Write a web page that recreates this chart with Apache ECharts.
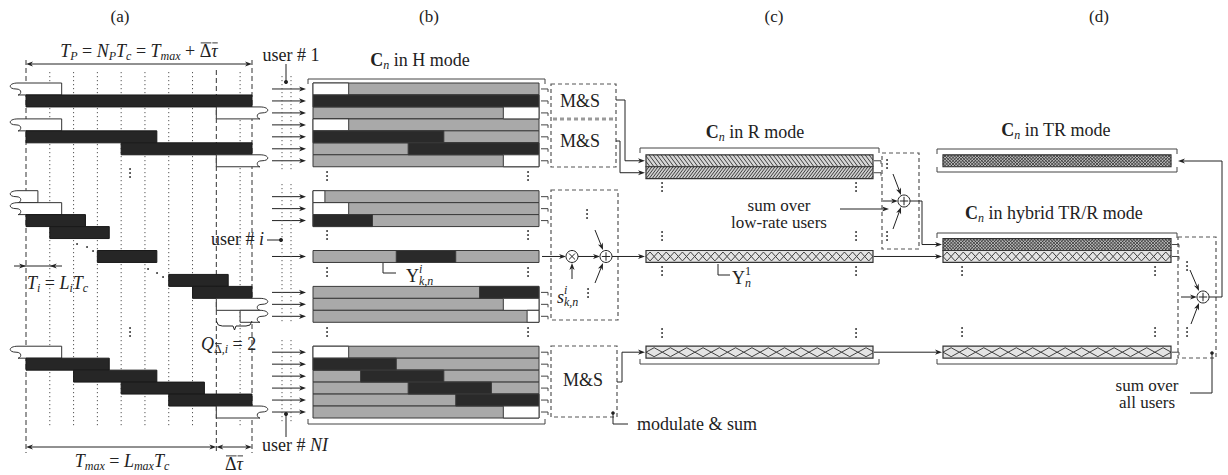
<!DOCTYPE html>
<html>
<head>
<meta charset="utf-8">
<script src="https://cdn.jsdelivr.net/npm/echarts@6/dist/echarts.min.js"></script>
<style>
html,body{margin:0;padding:0;background:#fff;}
#main{width:1228px;height:475px;}
</style>
</head>
<body>
<div id="main"></div>
<script>
//chip axis: one frame is Np = 9.5 chips (Tmax = 8 chips + mean delay 1.5 chips)
var chipMax = 9.5;
var slotMax = 28;
//panel (a): [slot, start chip, end chip, kind]  kind 1 = symbol, 0 = tail of neighbour symbol
var panelA = [
    [0, 0, 1.5, 0], [1, 0, 9.5, 1], [2, 8, 9.5, 0],
    [3, 0, 1.5, 0], [4, 0, 5.5, 1], [5, 4, 9.5, 1], [6, 8, 9.5, 0],
    [9, 0, 0.5, 0], [10, 0, 1.5, 0], [11, 0, 2.5, 1], [12, 1, 3.5, 1],
    [14, 3, 5.5, 1], [16, 6, 8.5, 1], [17, 7, 9.5, 1], [18, 8, 9.5, 0], [19, 9, 9.5, 0],
    [22, 0, 1.5, 0], [23, 0, 3.5, 1], [24, 2, 5.5, 1], [25, 4, 7.5, 1], [26, 6, 9.5, 1], [27, 8, 9.5, 0]
];
//panel (b): rows of the code (gray) and the coloured parts on them
var panelBRows = [0, 1, 2, 3, 4, 5, 6, 9, 10, 11, 14, 17, 18, 19, 22, 23, 24, 25, 26, 27];
var panelBParts = [
    [0, 0, 1.5, 0], [1, 0, 9.5, 1], [2, 8, 9.5, 0], [3, 0, 1.5, 0], [4, 0, 5.5, 1], [5, 4, 9.5, 1], [6, 8, 9.5, 0],
    [9, 0, 0.5, 0], [10, 0, 1.5, 0], [11, 0, 2.5, 1],
    [14, 3.5, 6, 1],
    [17, 7, 9.5, 1], [18, 8, 9.5, 0], [19, 9, 9.5, 0],
    [22, 0, 1.5, 0], [23, 0, 3.5, 1], [24, 2, 5.5, 1], [25, 4, 7.5, 1], [26, 6, 9.5, 1], [27, 8, 9.5, 0]
];
//panels (c) and (d): [slot, fill pattern]
var panelCStrips = [[6, 'bslash'], [7, 'slash'], [14, 'chain'], [22, 'chainWide']];
var panelDStrips = [[6, 'mesh'], [13, 'mesh'], [14, 'chain'], [22, 'chainWide']];
//dotted chip lines of panel (a)
var chipTicks = [1, 2, 3, 4, 5, 6, 7, 9];
var frameEdges = [0, 8, 9.5];

//layout
var TOP = 83, HGT = 335, SLOT_H = HGT / slotMax;
var LEFTS = [26, 313, 646, 943], WIDTHS = [226, 226, 227, 228];
var INK = '#222';
var SERIF = "'Liberation Serif', serif";
function rowMid(s) { return TOP + (s + 0.5) * SLOT_H; }
function chipA(c) { return LEFTS[0] + c * WIDTHS[0] / chipMax; }

//bars of panel (a)
function renderA(params, api) {
    var s = api.value(0), a = api.value(1), b = api.value(2), kind = api.value(3);
    var p0 = api.coord([a, s]), p1 = api.coord([b, s + 1]);
    var x0 = p0[0], y0 = p0[1], x1 = p1[0], y1 = p1[1], ym = (y0 + y1) / 2;
    if (kind === 1) {
        return {type: 'rect', shape: {x: x0, y: y0, width: x1 - x0, height: y1 - y0},
            style: {fill: '#262626', stroke: '#1a1a1a', lineWidth: 1}};
    }
    var d, xa;
    if (a === 0) {
        xa = x0 - 8;
        d = 'M' + xa + ',' + y0 + 'L' + x1 + ',' + y0 + 'L' + x1 + ',' + y1 + 'L' + xa + ',' + y1 +
            'M' + xa + ',' + y0 + 'C' + (xa - 10) + ',' + y0 + ' ' + (xa - 10) + ',' + ym + ' ' + (xa - 2) + ',' + ym +
            'C' + (xa + 5) + ',' + ym + ' ' + (xa + 3) + ',' + y1 + ' ' + xa + ',' + y1;
    } else {
        xa = x1 + 8;
        d = 'M' + xa + ',' + y0 + 'L' + x0 + ',' + y0 + 'L' + x0 + ',' + y1 + 'L' + xa + ',' + y1 +
            'M' + xa + ',' + y0 + 'C' + (xa + 10) + ',' + y0 + ' ' + (xa + 10) + ',' + ym + ' ' + (xa + 2) + ',' + ym +
            'C' + (xa - 5) + ',' + ym + ' ' + (xa - 3) + ',' + y1 + ' ' + xa + ',' + y1;
    }
    return {type: 'group', children: [
        {type: 'rect', shape: {x: Math.min(x0, xa), y: y0, width: Math.abs(xa - (a === 0 ? x1 : x0)), height: y1 - y0}, style: {fill: '#fff'}},
        {type: 'path', shape: {pathData: d}, style: {fill: null, stroke: '#333', lineWidth: 1}}
    ]};
}

//rows of panel (b)
function renderB(params, api) {
    var s = api.value(0), a = api.value(1), b = api.value(2), kind = api.value(3);
    var p0 = api.coord([a, s]), p1 = api.coord([b, s + 1]);
    var fills = ['#ffffff', '#2a2a2a', '#a9a9a9'];
    return {type: 'rect', z2: kind === 2 ? 0 : 1,
        shape: {x: p0[0], y: p0[1], width: p1[0] - p0[0], height: p1[1] - p0[1]},
        style: {fill: fills[kind], stroke: '#3a3a3a', lineWidth: 1}};
}

//clip a segment to a rectangle (Liang-Barsky)
function clipSeg(ax, ay, bx, by, r) {
    var t0 = 0, t1 = 1, dx = bx - ax, dy = by - ay;
    var p = [-dx, dx, -dy, dy], q = [ax - r[0], r[2] - ax, ay - r[1], r[3] - ay];
    for (var i = 0; i < 4; i++) {
        if (p[i] === 0) {
            if (q[i] < 0) return null;
        } else {
            var t = q[i] / p[i];
            if (p[i] < 0) { if (t > t1) return null; if (t > t0) t0 = t; }
            else { if (t < t0) return null; if (t < t1) t1 = t; }
        }
    }
    return [ax + t0 * dx, ay + t0 * dy, ax + t1 * dx, ay + t1 * dy];
}

function patternPath(name, r) {
    var segs = [], h = r[3] - r[1], ym = (r[1] + r[3]) / 2, x;
    if (name === 'chain' || name === 'chainWide') {
        var p = name === 'chain' ? 8.1 : 16.3;
        for (x = r[0]; x < r[2]; x += p) {
            segs.push([x, ym, x + p / 2, r[1] + 1.5], [x + p / 2, r[1] + 1.5, x + p, ym],
                [x, ym, x + p / 2, r[3] - 1.5], [x + p / 2, r[3] - 1.5, x + p, ym]);
        }
    } else {
        var step = name === 'bslash' ? 4 : (name === 'slash' ? 3 : 3.2);
        var run = name === 'mesh' ? h : h * 0.75;
        for (x = r[0] - run; x < r[2] + step; x += step) {
            if (name !== 'slash') segs.push([x, r[1], x + run, r[3]]);
            if (name !== 'bslash') segs.push([x, r[3], x + run, r[1]]);
        }
    }
    var d = '';
    segs.forEach(function (sg) {
        var c = clipSeg(sg[0], sg[1], sg[2], sg[3], r);
        if (c) d += 'M' + c[0].toFixed(2) + ',' + c[1].toFixed(2) + 'L' + c[2].toFixed(2) + ',' + c[3].toFixed(2);
    });
    return d;
}

//hatched strips of panels (c) and (d)
function stripRenderer(strips) {
    return function (params, api) {
        var s = api.value(0), name = strips[params.dataIndex][1];
        var p0 = api.coord([0, s]), p1 = api.coord([chipMax, s + 1]);
        var r = [p0[0], p0[1], p1[0], p1[1]];
        var bg = {bslash: '#d6d6d6', slash: '#cfcfcf', mesh: '#b8b8b8', chain: '#e4e4e4', chainWide: '#e4e4e4'}[name];
        var lw = name === 'mesh' ? 0.8 : 0.9;
        return {type: 'group', children: [
            {type: 'rect', shape: {x: r[0], y: r[1], width: r[2] - r[0], height: r[3] - r[1]}, style: {fill: bg}},
            {type: 'path', shape: {pathData: patternPath(name, r)}, style: {fill: null, stroke: '#2e2e2e', lineWidth: lw}},
            {type: 'rect', shape: {x: r[0], y: r[1], width: r[2] - r[0], height: r[3] - r[1]}, style: {fill: null, stroke: '#333', lineWidth: 1.2}}
        ]};
    };
}

//annotation helpers
var els = [];
var measureCtx = document.createElement('canvas').getContext('2d');
function fontOf(r) { return (r.i ? 'italic ' : '') + (r.b ? 'bold ' : '') + r.s + 'px ' + SERIF; }
function pl(pts, o) {
    o = o || {};
    els.push({type: 'polyline', z: o.z || 10, silent: true, shape: {points: pts},
        style: {stroke: o.c || INK, lineWidth: o.w || 1, fill: null, lineDash: o.dash || null}});
}
function head(x, y, ang) {
    var L = 7, W = 2.6, c = Math.cos(ang), s = Math.sin(ang), bx = x - L * c, by = y - L * s;
    els.push({type: 'polygon', z: 10, silent: true,
        shape: {points: [[x, y], [bx - W * s, by + W * c], [bx + 2 * c, by + 2 * s], [bx + W * s, by - W * c]]},
        style: {fill: INK}});
}
function arr(pts, o) {
    var n = pts.length, a = pts[n - 2], b = pts[n - 1];
    var ang = Math.atan2(b[1] - a[1], b[0] - a[0]);
    var q = pts.slice();
    q[n - 1] = [b[0] - 5 * Math.cos(ang), b[1] - 5 * Math.sin(ang)];
    pl(q, o);
    head(b[0], b[1], ang);
}
function dblArr(x1, x2, y) {
    pl([[x1 + 4, y], [x2 - 4, y]]);
    head(x1, y, Math.PI);
    head(x2, y, 0);
}
function dot(x, y, r) {
    els.push({type: 'circle', z: 10, silent: true, shape: {cx: x, cy: y, r: r || 1.8}, style: {fill: INK}});
}
function vdots(x, y) { dot(x, y, 0.9); dot(x, y + 4, 0.9); dot(x, y + 8, 0.9); }
function dashBox(x, y, w, h) {
    els.push({type: 'rect', z: 10, silent: true, shape: {x: x, y: y, width: w, height: h},
        style: {fill: null, stroke: '#555', lineWidth: 1.2, lineDash: [4, 3]}});
}
function circ(cx, cy, times) {
    els.push({type: 'circle', z: 10, silent: true, shape: {cx: cx, cy: cy, r: 6}, style: {fill: '#fff', stroke: INK, lineWidth: 1}});
    var k = times ? 3 : 4.2;
    if (times) {
        pl([[cx - k, cy - k], [cx + k, cy + k]]);
        pl([[cx - k, cy + k], [cx + k, cy - k]]);
    } else {
        pl([[cx - k, cy], [cx + k, cy]]);
        pl([[cx, cy - k], [cx, cy + k]]);
    }
}
function bracket(x1, x2, y, dir) { pl([[x1, y + dir * 5], [x1, y], [x2, y], [x2, y + dir * 5]], {c: '#444'}); }
function tick(x, y) { pl([[x, y], [x + 7, y], [x + 7, y + 3]], {c: '#444'}); }
function label(x, y, runs, align) {
    var total = 0;
    runs.forEach(function (r) {
        r.s = r.s || 18;
        measureCtx.font = fontOf(r);
        r.w = measureCtx.measureText(r.t).width;
        if (!r.noAdv) total += r.w;
    });
    var cx = align === 'left' ? x : (align === 'right' ? x - total : x - total / 2);
    runs.forEach(function (r) {
        var yy = y + (r.dy || 0);
        els.push({type: 'text', z: 11, silent: true, x: cx, y: yy,
            style: {legacy: false, text: r.t, fontSize: r.s, fontFamily: SERIF,
                fontStyle: r.i ? 'italic' : 'normal', fontWeight: r.b ? 'bold' : 'normal',
                fill: INK, align: 'left', verticalAlign: 'middle'}});
        if (r.over) pl([[cx + 1, yy - r.s * 0.45], [cx + r.w, yy - r.s * 0.45]], {w: 0.9});
        if (!r.noAdv) cx += r.w;
    });
}
function sub(t, o) { o = o || {}; return {t: t, i: o.i === undefined ? 1 : o.i, s: 12, dy: 5, over: o.over, noAdv: o.noAdv}; }
function sup(t, o) { o = o || {}; return {t: t, i: o.i === undefined ? 1 : o.i, s: 12, dy: -7, noAdv: true}; }

//panel letters
label(120, 16, [{t: '(a)', s: 17}]);
label(429, 16, [{t: '(b)', s: 17}]);
label(774, 16, [{t: '(c)', s: 17}]);
label(1099, 16, [{t: '(d)', s: 17}]);

//panel (a) guides and annotations
frameEdges.forEach(function (c) {
    pl([[chipA(c), c === 8 ? 70 : 60], [chipA(c), 453]], {dash: [5, 3], c: '#333', z: 1});
});
chipTicks.forEach(function (c) {
    pl([[chipA(c), 72], [chipA(c), 427]], {dash: [1.2, 2.8], c: '#555', z: 1});
});
label(139, 51, [{t: 'T', i: 1}, sub('P'), {t: ' = '}, {t: 'N', i: 1}, sub('P'), {t: 'T', i: 1}, sub('c'),
    {t: ' = '}, {t: 'T', i: 1}, sub('max'), {t: ' + '}, {t: 'Δ', over: 1}, {t: 'τ', i: 1, over: 1}]);
dblArr(chipA(0), chipA(chipMax), 64);
dblArr(chipA(0), chipA(8), 447);
dblArr(chipA(8), chipA(chipMax), 447);
label(122, 461, [{t: 'T', i: 1}, sub('max'), {t: ' = '}, {t: 'L', i: 1}, sub('max'), {t: 'T', i: 1}, sub('c')]);
label(234, 464, [{t: 'Δ', over: 1}, {t: 'τ', i: 1, over: 1}]);
//T_i marker
pl([[14, 266], [62, 266]]);
head(chipA(0), 266, 0);
head(chipA(1), 266, Math.PI);
label(27, 283, [{t: 'T', i: 1}, sub('i'), {t: ' = '}, {t: 'L', i: 1}, sub('i'), {t: 'T', i: 1}, sub('c')], 'left');
vdots(130, 169);
vdots(130, 328);
[[77, 244], [87, 247], [93, 251], [148, 269], [157, 273], [163, 277]].forEach(function (p) { dot(p[0], p[1], 0.9); });
//brace Q
pl([[chipA(8), 321], [chipA(8) + 2, 325], [chipA(8) + 6, 326], [233, 326], [234.5, 330], [236, 326],
    [chipA(chipMax) - 6, 326], [chipA(chipMax) - 2, 325], [chipA(chipMax), 321]]);
label(201, 344, [{t: 'Q', i: 1}, {t: 'Δ', s: 12, dy: 5, over: 1}, sub(',i'), {t: ' = 2'}], 'left');

//between (a) and (b)
panelBRows.forEach(function (s) { arr([[272, rowMid(s)], [306, rowMid(s)]]); });
[[76, 172], [184, 322], [340, 424]].forEach(function (g) {
    pl([[282, g[0]], [282, g[1]]], {dash: [1.2, 2.8], c: '#555'});
    pl([[291, g[0]], [291, g[1]]], {dash: [1.2, 2.8], c: '#555'});
});
label(291, 55, [{t: 'user # 1'}]);
pl([[286, 64], [286, 82]]);
dot(286, 82, 2);
label(264, 239, [{t: 'user # '}, {t: 'i', i: 1}], 'right');
pl([[267, 240], [281, 240]]);
dot(281, 240, 2);
label(262, 445, [{t: 'user # '}, {t: 'NI', i: 1}], 'left');
pl([[286, 437], [286, 414]]);
dot(286, 414, 2);

//panel (b)
label(420, 60, [{t: 'C', b: 1}, sub('n'), {t: ' in H mode'}]);
bracket(308, 545, 79, 1);
bracket(308, 545, 424, -1);
[172, 231, 268, 328].forEach(function (y) { vdots(327, y); vdots(528, y); });
pl([[383, 263], [383, 273], [396, 273]]);
label(406, 276, [{t: 'Y'}, sup('i'), sub('k,n')], 'left');
panelBRows.forEach(function (s) { if (s !== 14) tick(541, rowMid(s)); });

//modulate & sum boxes
dashBox(551, 84, 65, 83);
pl([[553, 119], [614, 119]], {c: '#9a9a9a', w: 3, dash: [4, 3]});
label(580, 101, [{t: 'M&S'}]);
label(580, 141, [{t: 'M&S'}]);
arr([[616, 100], [625, 100], [625, rowMid(6)], [645, rowMid(6)]]);
arr([[616, 141], [620, 141], [620, rowMid(7)], [645, rowMid(7)]]);
dashBox(551, 190, 67, 130);
circ(572, rowMid(14), true);
circ(606, rowMid(14), false);
arr([[542, rowMid(14)], [566, rowMid(14)]]);
arr([[578, rowMid(14)], [600, rowMid(14)]]);
arr([[612, rowMid(14)], [645, rowMid(14)]]);
arr([[595, 230], [603, 250]]);
arr([[595, 283], [603, 263]]);
arr([[572, 279], [572, 263]]);
label(557, 297, [{t: 's', i: 1}, sup('i'), sub('k,n')], 'left');
vdots(587, 210);
vdots(588, 289);
dashBox(551, 346, 66, 71);
label(583, 380, [{t: 'M&S'}]);
arr([[617, 382], [622, 382], [622, rowMid(22)], [645, rowMid(22)]]);
dot(613, 413, 1.8);
pl([[613, 413], [613, 424], [628, 424]]);
label(637, 424, [{t: 'modulate & sum'}], 'left');

//panel (c)
label(755, 132, [{t: 'C', b: 1}, sub('n'), {t: ' in R mode'}]);
bracket(640, 879, 148, 1);
bracket(640, 879, 364, -1);
[183, 232, 267, 329].forEach(function (y) { vdots(662, y); vdots(856, y); });
label(779, 205, [{t: 'sum over', s: 17}]);
label(779, 222, [{t: 'low-rate users', s: 17}]);
arr([[840, 209], [889, 209]]);
pl([[718, 264], [718, 275], [730, 275]]);
label(732, 278, [{t: 'Y'}, sup('1', {i: 0}), sub('n')], 'left');
tick(874, rowMid(6));
tick(874, rowMid(7));
dashBox(882, 153, 37, 96);
circ(904, 201, false);
arr([[883, 201], [898, 201]]);
arr([[893, 174], [901, 195]]);
arr([[893, 229], [901, 207]]);
vdots(887, 160);
vdots(887, 232);
arr([[910, 201], [922, 201], [922, rowMid(13)], [942, rowMid(13)]]);
arr([[874, rowMid(14)], [942, rowMid(14)]]);
arr([[874, rowMid(22)], [942, rowMid(22)]]);

//panel (d)
label(1056, 130, [{t: 'C', b: 1}, sub('n'), {t: ' in TR mode'}]);
bracket(937, 1177, 149, 1);
bracket(937, 1177, 172, -1);
label(1054, 213, [{t: 'C', b: 1}, sub('n'), {t: ' in hybrid TR/R mode'}]);
bracket(937, 1177, 233, 1);
bracket(937, 1177, 364, -1);
[267, 328].forEach(function (y) { vdots(962, y); vdots(1155, y); });
dashBox(1178, 237, 38, 121);
tick(1172, rowMid(13));
tick(1172, rowMid(14));
tick(1172, rowMid(22));
vdots(1187, 262);
vdots(1187, 328);
circ(1203, 297, false);
arr([[1181, 297], [1197, 297]]);
arr([[1190, 270], [1199, 291]]);
arr([[1191, 324], [1199, 303]]);
arr([[1209, 297], [1222, 297], [1222, 161], [1178, 161]]);
label(1147, 385, [{t: 'sum over', s: 17}]);
label(1147, 402, [{t: 'all users', s: 17}]);
pl([[1190, 393], [1212, 393], [1212, 353]]);
dot(1212, 353, 1.8);

var myChart = echarts.init(document.getElementById('main'), null, {renderer: 'svg'});
var gridIdx = [0, 1, 2, 3];
var option = {
    animation: false,
    grid: gridIdx.map(function (i) {
        return {left: LEFTS[i], top: TOP, width: WIDTHS[i], height: HGT, show: false};
    }),
    xAxis: gridIdx.map(function (i) {
        return {type: 'value', gridIndex: i, min: 0, max: chipMax, show: false};
    }),
    yAxis: gridIdx.map(function (i) {
        return {type: 'value', gridIndex: i, min: 0, max: slotMax, inverse: true, show: false};
    }),
    series: [
        {type: 'custom', xAxisIndex: 0, yAxisIndex: 0, data: panelA, renderItem: renderA, silent: true},
        {type: 'custom', xAxisIndex: 1, yAxisIndex: 1, silent: true, renderItem: renderB,
            data: panelBRows.map(function (s) { return [s, 0, chipMax, 2]; }).concat(panelBParts)},
        {type: 'custom', xAxisIndex: 2, yAxisIndex: 2, silent: true, renderItem: stripRenderer(panelCStrips),
            data: panelCStrips.map(function (d, i) { return [d[0], i]; })},
        {type: 'custom', xAxisIndex: 3, yAxisIndex: 3, silent: true, renderItem: stripRenderer(panelDStrips),
            data: panelDStrips.map(function (d, i) { return [d[0], i]; })}
    ],
    graphic: {elements: els}
};
myChart.setOption(option);
</script>
</body>
</html>
